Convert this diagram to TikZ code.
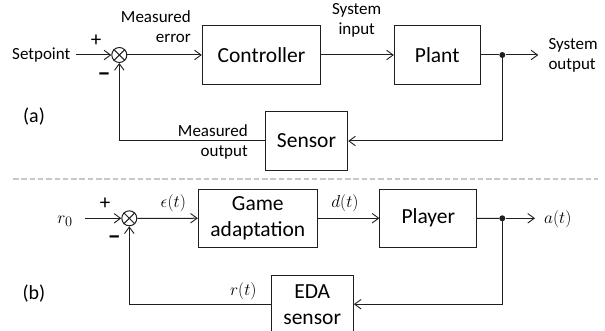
\documentclass[tikz,border=0pt]{standalone}
\usepackage{fontspec}
\setmainfont{Carlito}
\usetikzlibrary{arrows.meta}
\newcommand\boxfont{\fontsize{21.5}{26}\selectfont}
\newcommand\lblfont{\fontsize{17}{20}\selectfont}
\newcommand\mathlblfont{\fontsize{19}{22}\selectfont}
\colorlet{ink}{black!88}
\tikzset{
  blk/.style={draw=ink, line width=1pt, minimum height=58.3pt, inner sep=0pt,
    font=\boxfont, align=center},
  lbl/.style={inner sep=0pt, font=\lblfont},
  mlbl/.style={inner sep=0pt, font=\mathlblfont},
  sumnode/.style={draw=ink, circle, minimum size=15pt, inner sep=0pt, line width=1pt},
  junc/.style={circle, fill=ink, minimum size=6pt, inner sep=0pt},
  wire/.style={draw=ink, line width=1pt},
  sig/.style={wire, -{Straight Barb[length=6.5pt,width=9.5pt,line width=0.9pt]}},
  signmark/.style={inner sep=0pt, font=\fontsize{24}{24}\selectfont\bfseries},
  plusmark/.style={inner sep=0pt, font=\fontsize{21}{21}\selectfont},
  sep/.style={draw=black!22, line width=1.2pt, dash pattern=on 5.5pt off 2.8pt},
}
\begin{document}
\begin{tikzpicture}[x=1pt,y=-1pt]
\useasboundingbox (0,0) rectangle (605,331);
\clip (0,0) rectangle (605,331);

% ---------------- (a) generic feedback loop ----------------
\node[lbl, anchor=west] (sp) at (12,55) {Setpoint};
\node[sumnode] (s1) at (119.3,55) {};
\draw[wire] (s1.45) -- (s1.225) (s1.135) -- (s1.315);
\node[blk, minimum width=118.4pt] (ctrl) at (261.5,55) {Controller};
\node[blk, minimum width=85.7pt] (plant) at (437.2,55) {Plant};
\node[junc] (j1) at (502.3,55) {};
\coordinate (y1) at (538.3,55);
\node[lbl, align=left, anchor=west] (ylbl) at (548.3,55.3) {System\\output};
\node[blk, minimum width=82.4pt] (sens) at (306.5,141) {Sensor};

\node[plusmark] (p1) at (96,41) {+};
\node[signmark] (m1) at (104,77) {−};
\node[lbl, align=right, anchor=east] (e1) at (191,27) {Measured\\error};
\node[lbl, align=center] (u1) at (356.7,20.7) {System\\input};
\node[lbl, align=right, anchor=east] (mo) at (248,142.2) {Measured\\output};
\node[inner sep=0pt, font=\fontsize{20}{24}\selectfont] (ta) at (34,117) {(a)};

\draw[sig, shorten <=5pt] (sp) -- (s1);
\draw[sig] (s1) -- (ctrl);
\draw[sig] (ctrl) -- (plant);
\draw[wire] (plant) -- (j1);
\draw[sig] (j1) -- (y1);
\draw[sig] (j1) |- (sens);
\draw[sig] (sens) -| (s1);

% separator
\draw[sep] (13,179) -- (598,179);

% ---------------- (b) game adaptation loop ----------------
\node[mlbl] (r0) at (65,221.5) {$r_0$};
\node[sumnode] (s2) at (129.3,218.3) {};
\draw[wire] (s2.45) -- (s2.225) (s2.135) -- (s2.315);
\node[blk, minimum width=119pt] (game) at (257.8,218.2) {Game\\adaptation};
\node[blk, minimum width=96.7pt] (player) at (428.3,218.2) {Player};
\node[junc] (j2) at (502.3,218.3) {};
\coordinate (y2) at (535,218.3);
\node[mlbl, anchor=west] (at) at (544,219.3) {$a(t)$};
\node[blk, minimum width=82.3pt] (eda) at (312.2,304.2) {EDA\\sensor};

\node[plusmark] (p2) at (105,203.3) {+};
\node[signmark] (m2) at (114.3,240) {−};
\node[mlbl] (eps) at (173.3,202.7) {$\epsilon(t)$};
\node[mlbl] (dt) at (345,203.3) {$d(t)$};
\node[mlbl] (rt) at (243.3,290.7) {$r(t)$};
\node[inner sep=0pt, font=\fontsize{20}{24}\selectfont] (tb) at (34,293.3) {(b)};

\draw[sig, shorten <=12pt] (r0.east |- s2) -- (s2);
\draw[sig] (s2) -- (game);
\draw[sig] (game) -- (player);
\draw[wire] (player) -- (j2);
\draw[sig] (j2) -- (y2);
\draw[sig] (j2) |- (eda);
\draw[sig] (eda) -| (s2);
\end{tikzpicture}
\end{document}
